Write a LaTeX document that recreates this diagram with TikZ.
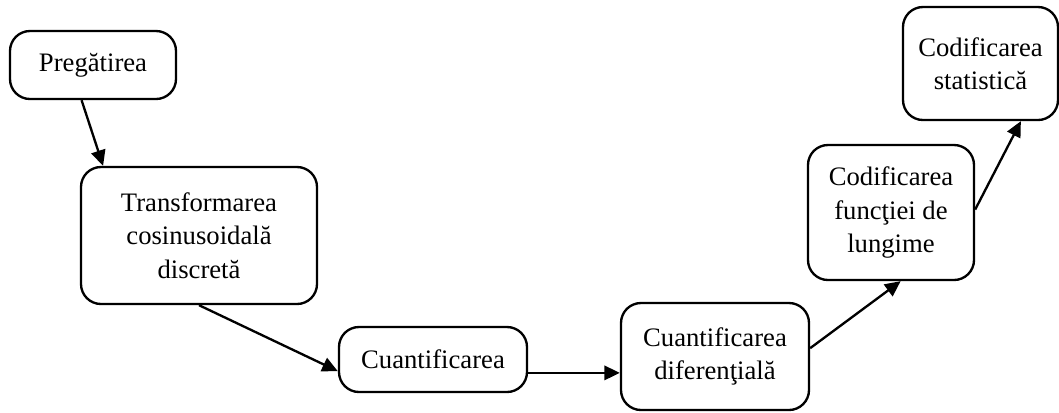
\documentclass[tikz,border=0pt]{standalone}
\usepackage{fontspec}
\setmainfont{Liberation Serif}
\usetikzlibrary{arrows.meta}

\tikzset{
  stage/.style={draw, line width=1.05pt, rounded corners=9pt, align=center,
    inner sep=0pt, font=\fontsize{12}{15}\selectfont},
  flow/.style={line width=1.05pt, -{Triangle[length=7pt,width=6.5pt]}}
}

\begin{document}
\begin{tikzpicture}[x=0.45pt, y=-0.45pt]
        \useasboundingbox (0,0) rectangle (1059,412);

        % NODES
        % -----------------

        \node[stage, minimum width=74.7pt, minimum height=30.6pt] (prep) at (93,65) {Pregătirea};
        \node[stage, minimum width=106.2pt, minimum height=61.65pt] (dct) at (199,235.5) {Transformarea\\cosinusoidală\\discretă};
        \node[stage, minimum width=84.6pt, minimum height=29.25pt] (quant) at (433,359.5) {Cuantificarea};
        \node[stage, minimum width=84.6pt, minimum height=48.15pt] (diffq) at (715,356.5) {Cuantificarea\\diferenţială};
        \node[stage, minimum width=74.7pt, minimum height=60.75pt] (rle) at (891,212.5) {Codificarea\\funcţiei de\\lungime};
        \node[stage, minimum width=69.75pt, minimum height=50.85pt] (stat) at (980.5,63.5) {Codificarea\\statistică};

        % EDGES
        % -----------------
        \draw[flow] (prep.252) -- (dct.144);
        \draw[flow] (dct.south) -- (quant.187);
        \draw[flow] (quant.352) -- (quant.352 -| diffq.west);
        \draw[flow] (diffq.5) -- (rle.278);
        \draw[flow] (rle.2) -- (stat.305);

\end{tikzpicture}
\end{document}
